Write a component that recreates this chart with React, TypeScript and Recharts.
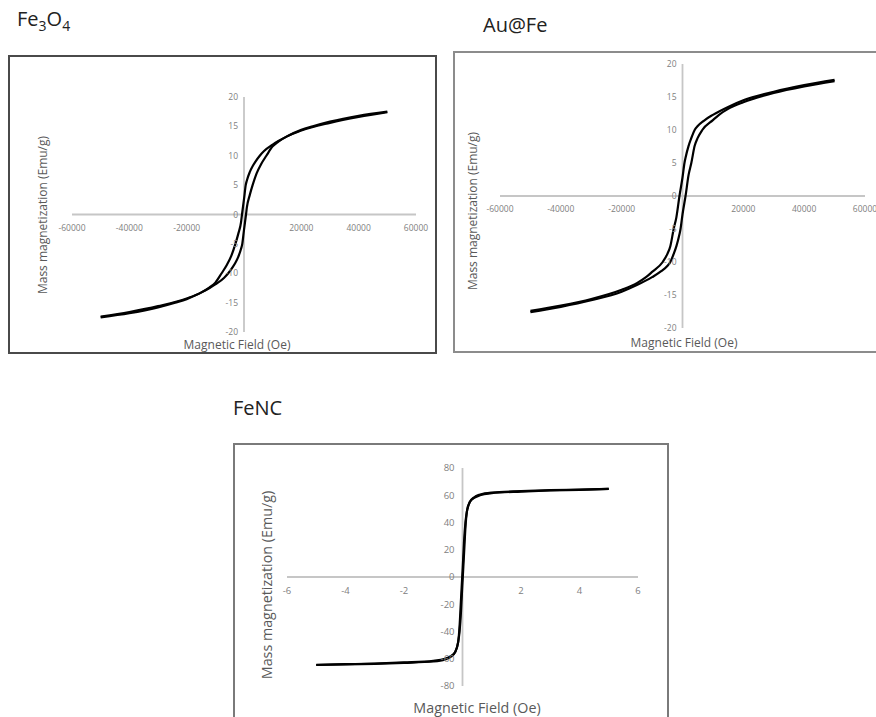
import React from 'react'
import { LineChart, Line, XAxis, YAxis, ReferenceLine, ReferenceDot } from 'recharts'

// Fe3O4 hysteresis loop, field in Oe, magnetization in emu/g
const fe3o4FieldDown = [-50000, -40000, -30000, -20000, -15000, -12000, -10000, -7800, -6000, -4400, -3000, -2000, -1000, -700, 0, 600, 1000, 2000, 3000, 4000, 5500, 7000, 10000, 12000, 15000, 20000, 24000, 30000, 40000, 50000]
const fe3o4MagDown = [-17.4, -16.6, -15.6, -14.3, -13.3, -12.4, -11.6, -10.0, -8.6, -7.0, -5.0, -3.3, -1.2, 0, 2.6, 5.0, 5.8, 7.2, 8.2, 9.0, 10.0, 10.8, 11.9, 12.5, 13.3, 14.4, 15.0, 15.8, 16.8, 17.5]
const fe3o4FieldUp = [-50000, -40000, -30000, -24000, -20000, -15000, -12000, -10000, -7000, -5500, -4000, -3000, -2000, -1000, -600, 0, 700, 1000, 2000, 3000, 4400, 6000, 7800, 10000, 12000, 15000, 20000, 30000, 40000, 50000]
const fe3o4MagUp = [-17.5, -16.8, -15.8, -15.0, -14.4, -13.3, -12.5, -11.9, -10.8, -10.0, -9.0, -8.2, -7.2, -5.8, -5.0, -2.6, 0, 1.2, 3.3, 5.0, 7.0, 8.6, 10.0, 11.6, 12.4, 13.3, 14.3, 15.6, 16.6, 17.4]

// Au@Fe hysteresis loop
const aufeFieldDown = [-50000, -40000, -30000, -20000, -15000, -12000, -10000, -6500, -5000, -4000, -2900, -2000, -1000, 0, 650, 1000, 2000, 3000, 4000, 5000, 7000, 10000, 15000, 20000, 30000, 40000, 50000]
const aufeMagDown = [-17.4, -16.6, -15.6, -14.2, -13.2, -12.3, -11.5, -10.0, -8.8, -7.6, -5.0, -3.2, 0, 2.8, 5.0, 5.8, 7.6, 8.9, 10.0, 10.6, 11.4, 12.3, 13.5, 14.5, 15.8, 16.8, 17.6]
const aufeFieldUp = [-50000, -40000, -30000, -20000, -15000, -10000, -7000, -5000, -4000, -3000, -2000, -1000, -650, 0, 1000, 2000, 2900, 4000, 5000, 6500, 10000, 12000, 15000, 20000, 30000, 40000, 50000]
const aufeMagUp = [-17.6, -16.8, -15.8, -14.5, -13.5, -12.3, -11.4, -10.6, -10.0, -8.9, -7.6, -5.8, -5.0, -2.8, 0, 3.2, 5.0, 7.6, 8.8, 10.0, 11.5, 12.3, 13.2, 14.2, 15.6, 16.6, 17.4]

// FeNC hysteresis loop
const fencFieldDown = [-5, -4, -3, -2, -1, -0.6, -0.4, -0.25, -0.15, -0.1, -0.06, -0.03, 0, 0.02, 0.05, 0.1, 0.15, 0.25, 0.4, 0.6, 1, 2, 3, 4, 5]
const fencMagDown = [-64.5, -64, -63.5, -62.7, -61.5, -60, -58, -55, -48, -36, -20, -8, 4, 12, 25, 40, 48, 55, 58.5, 60.5, 62, 63, 63.7, 64.2, 64.7]
const fencFieldUp = [-5, -4, -3, -2, -1, -0.6, -0.4, -0.25, -0.15, -0.1, -0.05, -0.02, 0, 0.03, 0.06, 0.1, 0.15, 0.25, 0.4, 0.6, 1, 2, 3, 4, 5]
const fencMagUp = [-64.6, -64.2, -63.7, -63, -62, -60.5, -58.5, -55, -48, -40, -25, -12, -4, 8, 20, 36, 48, 55, 58, 60, 61.5, 62.7, 63.5, 64, 64.7]

const oeTicks = [-60000, -40000, -20000, 20000, 40000, 60000]
const emuTicks = [-20, -15, -10, -5, 0, 5, 10, 15, 20]
const fencFieldTicks = [-6, -4, -2, 2, 4, 6]
const fencEmuTicks = [-80, -60, -40, -20, 0, 20, 40, 60, 80]

const zip = (xs: number[], ys: number[]) => xs.map((h, i) => ({ h, m: ys[i] }))

const FONT = '"Open Sans", "Noto Sans", sans-serif'
const TICK_COLOR = '#808080'
const TITLE_COLOR = '#595959'

type Box = { x: number; y: number; w: number; h: number; border: string }
type Plot = { left: number; top: number; right: number; bottom: number }

type PanelProps = {
  title: React.ReactNode
  titlePos: { x: number; y: number }
  box: Box
  plot: Plot
  xDomain: [number, number]
  yDomain: [number, number]
  xTicks: number[]
  yTicks: number[]
  down: { h: number; m: number }[]
  up: { h: number; m: number }[]
  tickSize: number
  xTickOffset: number
  yTickOffset: number
  yTitle: { x: number; y: number; size: number }
  xTitle: { x: number; y: number; size: number }
}

function Panel(p: PanelProps) {
  const { box, plot } = p
  const margin = {
    left: plot.left - box.x,
    top: plot.top - box.y,
    right: box.x + box.w - plot.right,
    bottom: box.y + box.h - plot.bottom,
  }
  const tickLabel = { fill: TICK_COLOR, fontSize: p.tickSize, fontFamily: FONT }

  return (
    <>
      <div
        style={{
          position: 'absolute',
          left: p.titlePos.x,
          top: p.titlePos.y,
          fontFamily: FONT,
          fontSize: 20,
          lineHeight: '20px',
          color: '#222',
          whiteSpace: 'nowrap',
        }}
      >
        {p.title}
      </div>
      <div
        style={{
          position: 'absolute',
          left: box.x,
          top: box.y,
          width: box.w,
          height: box.h,
          boxSizing: 'border-box',
          border: `2px solid ${box.border}`,
          background: '#fff',
        }}
      />
      <div style={{ position: 'absolute', left: box.x, top: box.y }}>
        <LineChart width={box.w} height={box.h} margin={margin}>
          <XAxis dataKey="h" type="number" domain={p.xDomain} hide allowDataOverflow />
          <YAxis type="number" domain={p.yDomain} hide allowDataOverflow />
          <ReferenceLine y={0} stroke="#c6c6c6" strokeWidth={1.8} />
          <ReferenceLine x={0} stroke="#c6c6c6" strokeWidth={1.8} />
          {p.xTicks.map((t) => (
            <ReferenceDot
              key={`x${t}`}
              x={t}
              y={0}
              r={0}
              fill="none"
              stroke="none"
              label={{ value: String(t), position: 'bottom', offset: p.xTickOffset, ...tickLabel }}
            />
          ))}
          {p.yTicks.map((t) => (
            <ReferenceDot
              key={`y${t}`}
              x={0}
              y={t}
              r={0}
              fill="none"
              stroke="none"
              label={{ value: String(t), position: 'left', offset: p.yTickOffset, ...tickLabel }}
            />
          ))}
          <Line data={p.down} dataKey="m" type="monotone" stroke="#000" strokeWidth={2.2} dot={false} isAnimationActive={false} />
          <Line data={p.up} dataKey="m" type="monotone" stroke="#000" strokeWidth={2.2} dot={false} isAnimationActive={false} />
        </LineChart>
      </div>
      <div
        style={{
          position: 'absolute',
          left: p.yTitle.x,
          top: p.yTitle.y,
          transform: 'translate(-50%, -50%) rotate(-90deg)',
          fontFamily: FONT,
          fontSize: p.yTitle.size,
          lineHeight: 1,
          color: TITLE_COLOR,
          whiteSpace: 'nowrap',
        }}
      >
        Mass magnetization (Emu/g)
      </div>
      <div
        style={{
          position: 'absolute',
          left: p.xTitle.x,
          top: p.xTitle.y,
          transform: 'translate(-50%, -50%)',
          fontFamily: FONT,
          fontSize: p.xTitle.size,
          lineHeight: 1,
          color: TITLE_COLOR,
          whiteSpace: 'nowrap',
        }}
      >
        Magnetic Field (Oe)
      </div>
    </>
  )
}

export default function App() {
  return (
    <div
      style={{
        position: 'absolute',
        left: 0,
        top: 0,
        width: 876,
        height: 717,
        overflow: 'hidden',
        background: '#fff',
      }}
    >
      <Panel
        title={
          <span>
            Fe<sub style={{ fontSize: 14 }}>3</sub>O<sub style={{ fontSize: 14 }}>4</sub>
          </span>
        }
        titlePos={{ x: 17, y: 9 }}
        box={{ x: 8, y: 55, w: 429, h: 299, border: '#4a4a4a' }}
        plot={{ left: 72, top: 97, right: 416, bottom: 332 }}
        xDomain={[-60000, 60000]}
        yDomain={[-20, 20]}
        xTicks={oeTicks}
        yTicks={emuTicks}
        down={zip(fe3o4FieldDown, fe3o4MagDown)}
        up={zip(fe3o4FieldUp, fe3o4MagUp)}
        tickSize={8.5}
        xTickOffset={10}
        yTickOffset={6}
        yTitle={{ x: 43, y: 215, size: 12 }}
        xTitle={{ x: 237, y: 345, size: 12 }}
      />
      <Panel
        title="Au@Fe"
        titlePos={{ x: 483, y: 15 }}
        box={{ x: 453, y: 51, w: 426, h: 302, border: '#8c8c8c' }}
        plot={{ left: 500, top: 64, right: 865, bottom: 328 }}
        xDomain={[-60000, 60000]}
        yDomain={[-20, 20]}
        xTicks={oeTicks}
        yTicks={emuTicks}
        down={zip(aufeFieldDown, aufeMagDown)}
        up={zip(aufeFieldUp, aufeMagUp)}
        tickSize={8.5}
        xTickOffset={10}
        yTickOffset={6}
        yTitle={{ x: 473, y: 211, size: 12 }}
        xTitle={{ x: 684, y: 343, size: 12 }}
      />
      <Panel
        title="FeNC"
        titlePos={{ x: 233, y: 398 }}
        box={{ x: 233, y: 443, w: 436, h: 300, border: '#7a7a7a' }}
        plot={{ left: 287, top: 468, right: 638, bottom: 686 }}
        xDomain={[-6, 6]}
        yDomain={[-80, 80]}
        xTicks={fencFieldTicks}
        yTicks={fencEmuTicks}
        down={zip(fencFieldDown, fencMagDown)}
        up={zip(fencFieldUp, fencMagUp)}
        tickSize={9.5}
        xTickOffset={10}
        yTickOffset={8}
        yTitle={{ x: 267, y: 585, size: 14.3 }}
        xTitle={{ x: 477, y: 708, size: 14.3 }}
      />
    </div>
  )
}
